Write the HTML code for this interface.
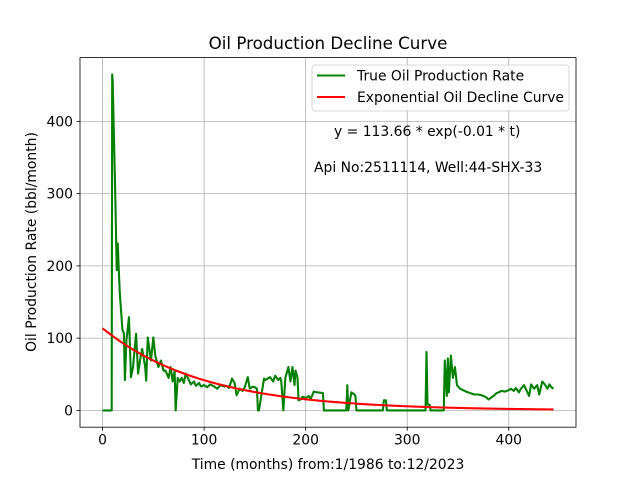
<!DOCTYPE html>
<html><head><meta charset="utf-8"><style>
body{margin:0;background:#fff}
svg{display:block;font-family:"DejaVu Sans","Liberation Sans",sans-serif}
</style></head><body>
<svg id="chart" width="640" height="480" viewBox="0 0 640 480" xmlns="http://www.w3.org/2000/svg">
<rect width="640" height="480" fill="#fff"/>
<g id="grid"></g>
<g id="series"></g>
<rect x="80" y="57.6" width="496" height="369.6" fill="none" stroke="#000" stroke-width="0.8"/>
<g id="ticks" font-size="13.9"></g>
<text x="328" y="49" text-anchor="middle" font-size="16.7">Oil Production Decline Curve</text>
<text x="328" y="469" text-anchor="middle" font-size="13.9">Time (months) from:1/1986 to:12/2023</text>
<text transform="translate(36,242) rotate(-90)" text-anchor="middle" font-size="13.9">Oil Production Rate (bbl/month)</text>
<g>
<rect x="312" y="65" width="257" height="46" rx="3" fill="#fff" fill-opacity="0.8" stroke="#ccc" stroke-width="0.8"/>
<line x1="317" y1="75.5" x2="345" y2="75.5" stroke="green" stroke-width="2.08"/>
<text x="357" y="80.5" font-size="13.9">True Oil Production Rate</text>
<line x1="317" y1="97" x2="345" y2="97" stroke="red" stroke-width="2.08"/>
<text x="357" y="102" font-size="13.9">Exponential Oil Decline Curve</text>
</g>
<text x="334" y="136" font-size="13.9">y = 113.66 * exp(-0.01 * t)</text>
<text x="314" y="172" font-size="13.9">Api No:2511114, Well:44-SHX-33</text>
</svg>
<script>
const months = [0,9,9.5,10,12.5,14,15,16,17,19.6,21,22,23.5,26,28,30,33,35,37,39,42,43,44.5,47.7,50,52,55,57.5,60,62,65,67,69,71,72,74,76,78,80,82,85,87,90,92,95,97,100,103,106,110,113,116,120,122,124.5,127.5,130,132,135,138,140,143,145,148,150,152,153,154,159,160,165,168,170,173,175,176,178,180,183,185,187,189,190,192,193,195,197,200,203,205,208,211,217,218,240,241,242,245,248,249,250,276,277,279,280,318,319,320,322,323,336,337,339,340,341,343,345,347,349,352,355,358,362,366,370,373,375,378,380,382,385,388,390,393,396,400,402,405,407,410,412,415,418,420,422,425,428,430,433,436,438,440,442,444];
const rates  = [0,0,465,455,300,194,231,194,162,111,107,42,97,129,46,60,106,51,70,85,60,41,101,69,101,75,60,69,55,55,45,60,40,55,0,45,40,45,38,51,42,36,40,34,38,33,35,32,36,33,30,35,33,34,31,44,38,21,30,27,32,46,30,33,32,30,0,0,44,42,46,40,48,42,45,40,0,45,60,40,60,35,55,45,14,15,19,17,20,16,26,25,24,0,0,35,0,25,22,20,0,0,14,14,0,0,81,8,8,0,0,69,20,72,25,76,45,60,35,30,28,26,24,22,22,21,20,18,15,17,20,24,25,27,26,28,30,27,31,25,30,35,26,20,36,30,35,22,40,35,30,36,32,30,27];
const fitA = 113.66, fitK = 0.01, fitEnd = 444;
const xTicks = [0,100,200,300,400];
const yTicks = [0,100,200,300,400];
const xMin=-22.2, xMax=466.2, yMin=-23.25, yMax=488.25;
const L=80,R=576,T=57.6,B=427.2;
const sx=v=>L+(v-xMin)/(xMax-xMin)*(R-L);
const sy=v=>B-(v-yMin)/(yMax-yMin)*(B-T);
const NS="http://www.w3.org/2000/svg";
function mk(tag,attrs,parent){const e=document.createElementNS(NS,tag);for(const k in attrs)e.setAttribute(k,attrs[k]);parent.appendChild(e);return e;}
const grid=document.getElementById('grid'),ticks=document.getElementById('ticks'),series=document.getElementById('series');
xTicks.forEach(v=>{const x=sx(v);
 const g=mk('line',{x1:x,x2:x,y1:T,y2:B,stroke:'#b0b0b0','stroke-width':0.8},grid);
 
 
 const t=mk('line',{x1:x,x2:x,y1:B,y2:B+3.5,stroke:'#000','stroke-width':0.8},ticks);
 
 
 const l=mk('text',{x:x,y:B+17.5,'text-anchor':'middle'},ticks);l.textContent=v;
 
 
});
yTicks.forEach(v=>{const y=sy(v);
 const g=mk('line',{x1:L,x2:R,y1:y,y2:y,stroke:'#b0b0b0','stroke-width':0.8},grid);
 
 
 const t=mk('line',{x1:L-3.5,x2:L,y1:y,y2:y,stroke:'#000','stroke-width':0.8},ticks);
 
 
 const l=mk('text',{x:L-7,y:y+5,'text-anchor':'end'},ticks);l.textContent=v;
 
 
});
const gp=months.map((m,i)=>sx(m).toFixed(2)+','+sy(rates[i]).toFixed(2)).join(' ');
const gl=mk('polyline',{points:gp,fill:'none',stroke:'green','stroke-width':2.08,'stroke-linejoin':'round'},series);


const rp=[];for(let t=0;t<=fitEnd;t+=2){rp.push(sx(t).toFixed(2)+','+sy(fitA*Math.exp(-fitK*t)).toFixed(2));}
const rl=mk('polyline',{points:rp.join(' '),fill:'none',stroke:'red','stroke-width':2.08},series);


</script>
</body></html>
